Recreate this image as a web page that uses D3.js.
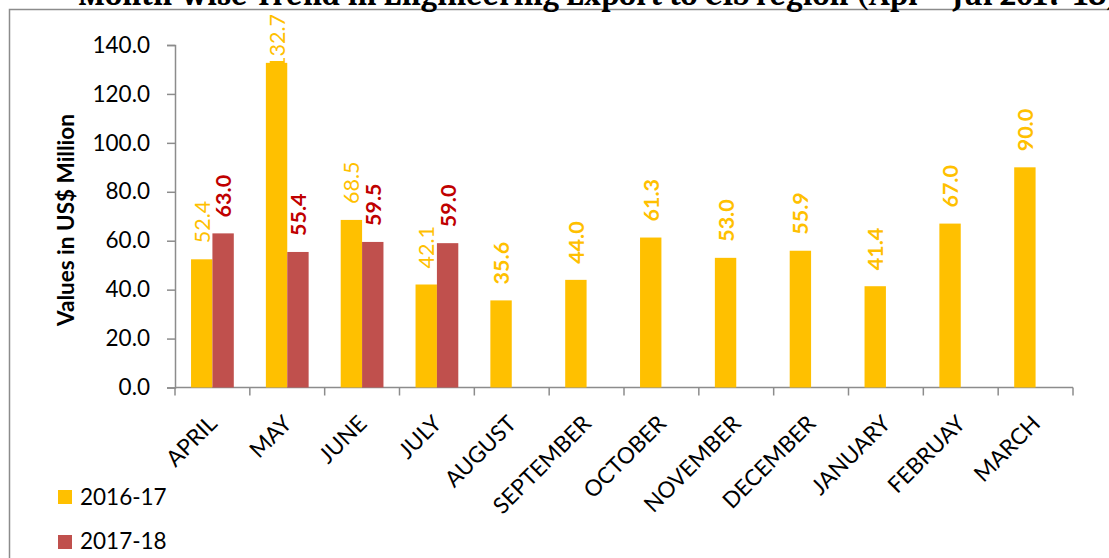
<!DOCTYPE html>
<html>
<head>
<meta charset="utf-8">
<script src="https://cdn.jsdelivr.net/npm/d3@7"></script>
<style>
  html, body { margin: 0; padding: 0; background: #fff; overflow: hidden; }
  svg { display: block; }
</style>
</head>
<body>
<svg id="chart" width="1109" height="558"></svg>
<script>
// ---- data ----
const months = ["APRIL","MAY","JUNE","JULY","AUGUST","SEPTEMBER","OCTOBER","NOVEMBER","DECEMBER","JANUARY","FEBRUAY","MARCH"];
const series = ["2016-17","2017-18"];
const values2016 = [52.4,132.7,68.5,42.1,35.6,44.0,61.3,53.0,55.9,41.4,67.0,90.0];
const values2017 = [63.0,55.4,59.5,59.0,null,null,null,null,null,null,null,null];
const yTicks = [0,20,40,60,80,100,120,140];
const titleText = "Month-wise Trend in Engineering Export to CIS region (Apr \u2013 Jul 2017-18)";
const yTitle = "Values in US$ Million";

const barColors = {"2016-17":"#FFC000","2017-18":"#C0504D"};
const labelColors = {"2016-17":"#FFC000","2017-18":"#C00000"};
const FONT = "Lato, 'Open Sans', sans-serif";

const svg = d3.select("#chart");

// chart border (extends beyond the right/bottom edges)
svg.append("rect").attr("x",9.5).attr("y",9.5).attr("width",1300).attr("height",700)
  .attr("fill","none").attr("stroke","#8c8c8c").attr("stroke-width",1.5);

// title (clipped at top, as in the reference)
svg.append("text").attr("x",78).attr("y",5)
  .attr("font-family","Cambria, 'DejaVu Serif', serif").attr("font-weight","bold")
  .attr("font-size",32).attr("fill","#000").text(titleText);

// scales
const plotLeft = 175, plotRight = 1073, y0 = 387.5, yTop = 45;
const x = d3.scaleBand().domain(months).range([plotLeft, plotRight]).padding(0);
const x1 = d3.scaleBand().domain(series).range([0, x.bandwidth()]).paddingInner(0).paddingOuter(0.75);
const y = d3.scaleLinear().domain([0,140]).range([y0, yTop]);

// y axis
const yAxis = svg.append("g").attr("transform",`translate(${plotLeft},0)`)
  .call(d3.axisLeft(y).tickValues(yTicks).tickFormat(d3.format(".1f")).tickSize(8).tickPadding(17));
yAxis.select(".domain").attr("stroke","#8c8c8c").attr("stroke-width",1.5);
yAxis.selectAll(".tick line").attr("stroke","#8c8c8c").attr("stroke-width",1.5);
yAxis.selectAll(".tick text").attr("font-family",FONT).attr("font-size",22.5).attr("fill","#000");

// x axis line + boundary ticks
const xg = svg.append("g");
xg.append("line").attr("x1",plotLeft).attr("x2",plotRight).attr("y1",y0).attr("y2",y0)
  .attr("stroke","#8c8c8c").attr("stroke-width",1.5);
const bounds = months.map(m => x(m)).concat([plotRight]);
xg.selectAll("line.tk").data(bounds).enter().append("line").attr("class","tk")
  .attr("x1",d=>d).attr("x2",d=>d).attr("y1",y0).attr("y2",y0+8)
  .attr("stroke","#8c8c8c").attr("stroke-width",1.5);

// category labels rotated -45
xg.selectAll("text.cat").data(months).enter().append("text").attr("class","cat")
  .attr("font-family",FONT).attr("font-size",22.5).attr("fill","#000")
  .attr("text-anchor","end")
  .attr("transform", d => `translate(${x(d)+x.bandwidth()/2+6},${425}) rotate(-45)`)
  .text(d=>d);

// bars
const rows = [];
months.forEach((m,i) => {
  rows.push({m, s:"2016-17", v: values2016[i], paired: values2017[i] != null});
  if (values2017[i] != null) rows.push({m, s:"2017-18", v: values2017[i], paired:true});
});
svg.append("g").selectAll("rect").data(rows).enter().append("rect")
  .attr("x", d => x(d.m) + x1(d.s))
  .attr("width", x1.bandwidth())
  .attr("y", d => y(d.v))
  .attr("height", d => y0 - y(d.v))
  .attr("fill", d => barColors[d.s]);

// data labels
const lg = svg.append("g");
rows.forEach(d => {
  const cx = x(d.m) + x1(d.s) + x1.bandwidth()/2;
  const t = lg.append("text")
    .attr("font-family",FONT).attr("font-size",21.5)
    .attr("font-weight", (d.s === "2017-18" || !d.paired) ? "bold" : "normal")
    .attr("fill", labelColors[d.s])
    .attr("text-anchor","start").attr("dominant-baseline","central")
    .text(d.v.toFixed(1));
  const len = t.node().getComputedTextLength();
  let anchor = y(d.v) - 16;
  if (anchor - len < 14) anchor = 14 + len;
  t.attr("transform", `translate(${cx},${anchor}) rotate(-90)`);
});

// y axis title
svg.append("text").attr("font-family",FONT).attr("font-weight","bold").attr("font-size",22.5)
  .attr("fill","#000").attr("text-anchor","middle").attr("dominant-baseline","central")
  .attr("transform","translate(65.5,220) rotate(-90)").text(yTitle);

// legend
const leg = svg.append("g");
series.forEach((s,i) => {
  leg.append("rect").attr("x",58).attr("y",490 + i*45).attr("width",14).attr("height",14).attr("fill",barColors[s]);
  leg.append("text").attr("x",80).attr("y",505 + i*44).attr("font-family",FONT).attr("font-size",22.5)
    .attr("fill","#000").text(s);
});
</script>
</body>
</html>
